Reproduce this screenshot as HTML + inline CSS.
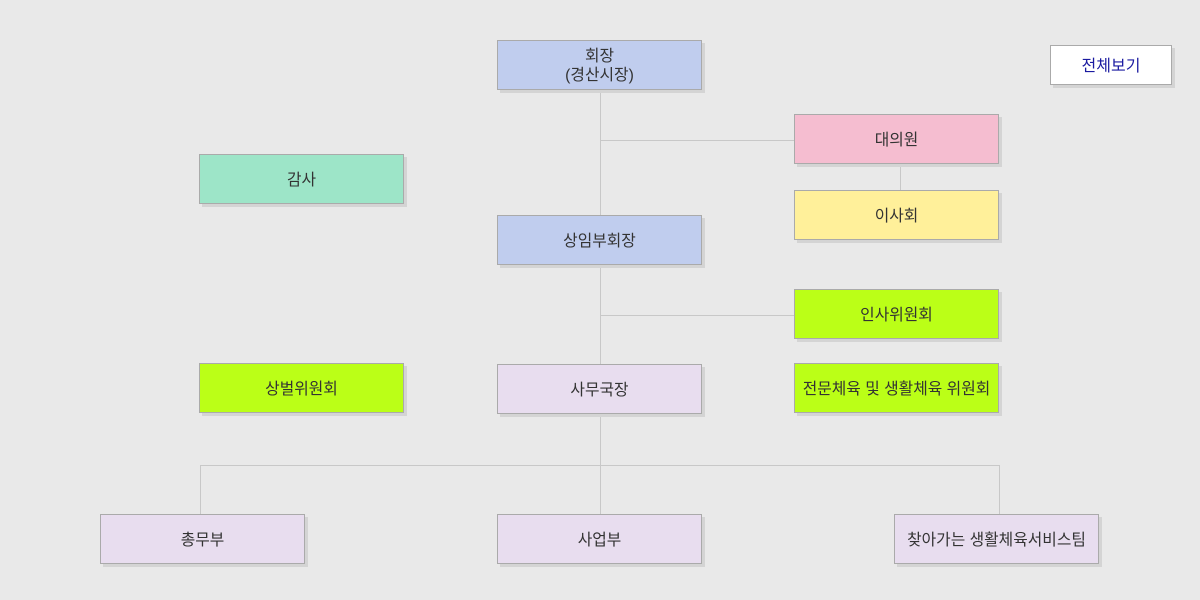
<!DOCTYPE html>
<html><head><meta charset="utf-8"><style>
body{margin:0;width:1200px;height:600px;background:#e9e9e9;position:relative;overflow:hidden;font-family:"Liberation Sans","Noto Sans CJK KR",sans-serif;}
.b{position:absolute;box-sizing:border-box;width:205px;height:50px;border:1px solid #aaa;box-shadow:3px 3px 0 #d4d4d4;display:flex;align-items:center;justify-content:center;text-align:center;font-size:15.8px;color:#333;line-height:19px;padding-top:2px}
.l{position:absolute;background:#c8c8c8}
</style></head><body>
<div class="l" style="left:600px;top:90px;width:1px;height:424px"></div>
<div class="l" style="left:600px;top:140px;width:194px;height:1px"></div>
<div class="l" style="left:900px;top:164px;width:1px;height:26px"></div>
<div class="l" style="left:600px;top:315px;width:194px;height:1px"></div>
<div class="l" style="left:200px;top:465px;width:800px;height:1px"></div>
<div class="l" style="left:200px;top:465px;width:1px;height:49px"></div>
<div class="l" style="left:999px;top:465px;width:1px;height:49px"></div>

<div class="b" style="left:497px;top:40px;background:#c0cdee">회장<br>(경산시장)</div>
<div class="b" style="left:794px;top:114px;background:#f5bdd0">대의원</div>
<div class="b" style="left:794px;top:190px;background:#fff09a">이사회</div>
<div class="b" style="left:199px;top:154px;background:#9de5c8">감사</div>
<div class="b" style="left:497px;top:215px;background:#c0cdee">상임부회장</div>
<div class="b" style="left:794px;top:289px;background:#bbff17">인사위원회</div>
<div class="b" style="left:199px;top:363px;background:#bbff17">상벌위원회</div>
<div class="b" style="left:497px;top:364px;background:#e8ddef">사무국장</div>
<div class="b" style="left:794px;top:363px;background:#bbff17">전문체육 및 생활체육 위원회</div>
<div class="b" style="left:100px;top:514px;background:#e8ddef">총무부</div>
<div class="b" style="left:497px;top:514px;background:#e8ddef">사업부</div>
<div class="b" style="left:894px;top:514px;background:#e8ddef">찾아가는 생활체육서비스팀</div>
<div class="b" style="left:1050px;top:45px;width:122px;height:40px;background:#fff;color:#1a1aa0;font-size:16px">전체보기</div>
</body></html>
